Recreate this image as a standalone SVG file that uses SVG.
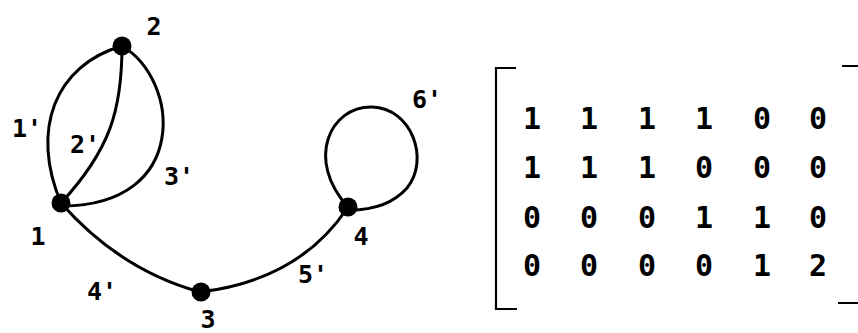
<svg xmlns="http://www.w3.org/2000/svg" width="858" height="333" viewBox="0 0 858 333">
<style>
.e{fill:none;stroke:#000;stroke-width:3;stroke-linecap:round}
.n{fill:#000}
.t{font-family:"DejaVu Sans Mono","Liberation Mono",monospace;font-size:25px;font-weight:bold;fill:#000;text-anchor:middle}
.m{font-family:"DejaVu Sans Mono","Liberation Mono",monospace;font-size:30px;font-weight:bold;fill:#000;text-anchor:middle}
.b{fill:none;stroke:#000;stroke-width:2.2}
</style>
<rect width="858" height="333" fill="#fff"/>
<g id="connectors">
<path id="e1" class="e" d="M122,46 C55,65 30,130 61,203"/>
<path id="e2" class="e" d="M122,46 C122,110 110,150 61,203"/>
<path id="e3" class="e" d="M122,46 C180,80 190,205 63,206"/>
<path id="e4" class="e" d="M61,203 Q120,270 200,292"/>
<path id="e5" class="e" d="M200,292 Q300,280 348,207"/>
<path id="e6" class="e" d="M348,207 C305,160 330,106 372,107 C412,108 430,160 407,188 C392,205 372,210 350,210"/>
</g>
<g id="node1"><circle class="n" cx="61" cy="203" r="9.5"/><text class="t" x="38" y="245">1</text></g>
<g id="node2"><circle class="n" cx="122" cy="46" r="9.5"/><text class="t" x="154" y="35">2</text></g>
<g id="node3"><circle class="n" cx="201" cy="292" r="9.5"/><text class="t" x="208" y="328">3</text></g>
<g id="node4"><circle class="n" cx="348" cy="207" r="9.5"/><text class="t" x="361" y="245">4</text></g>
<g id="labels">
<text class="t" x="27" y="137">1'</text>
<text class="t" x="85" y="153">2'</text>
<text class="t" x="179" y="185">3'</text>
<text class="t" x="102" y="300">4'</text>
<text class="t" x="313" y="283">5'</text>
<text class="t" x="427" y="108">6'</text>
</g>
<g id="matrix">
<path class="b" d="M516,68 H496 V309 H517"/>
<path class="b" d="M842,66 H858 M838,303 H858"/>
<g class="m">
<text x="532" y="129">1</text><text x="589" y="129">1</text><text x="647" y="129">1</text><text x="704" y="129">1</text><text x="762" y="129">0</text><text x="818" y="129">0</text>
<text x="532" y="178">1</text><text x="589" y="178">1</text><text x="647" y="178">1</text><text x="704" y="178">0</text><text x="762" y="178">0</text><text x="818" y="178">0</text>
<text x="532" y="228">0</text><text x="589" y="228">0</text><text x="647" y="228">0</text><text x="704" y="228">1</text><text x="762" y="228">1</text><text x="818" y="228">0</text>
<text x="532" y="276">0</text><text x="589" y="276">0</text><text x="647" y="276">0</text><text x="704" y="276">0</text><text x="762" y="276">1</text><text x="818" y="276">2</text>
</g>
</g>
</svg>
